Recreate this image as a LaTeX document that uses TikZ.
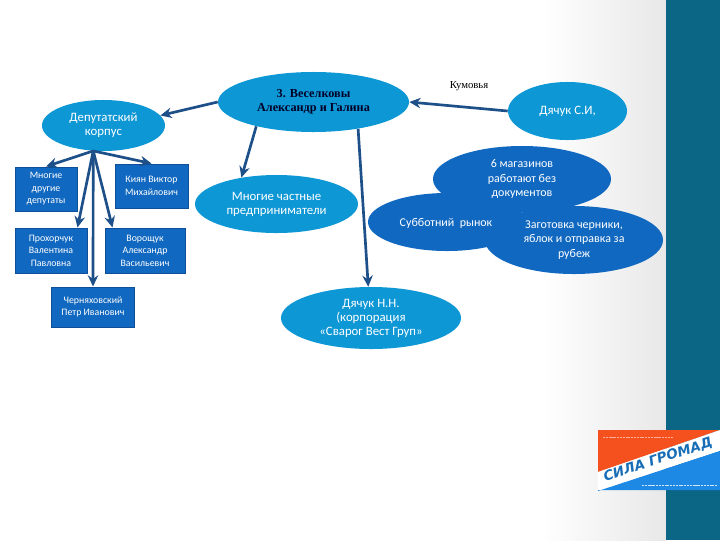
\documentclass[tikz,border=0pt]{standalone}
\usepackage{fontspec}
\setmainfont{Carlito}
\newfontfamily\serifcyr{Liberation Serif}
\newfontfamily\logofont{DejaVu Sans}
\usepackage{xcolor}
\usetikzlibrary{arrows.meta,positioning,shapes.geometric}
\definecolor{hubblue}{HTML}{0E97D5}
\definecolor{deepblue}{HTML}{1168C0}
\definecolor{edgeblue}{HTML}{0F4F9A}
\definecolor{linkblue}{HTML}{1D4F88}
\definecolor{sidebar}{HTML}{0B6585}
\definecolor{logoorange}{HTML}{F4511E}
\definecolor{logoblue}{HTML}{1E88E5}
\tikzset{
  hub/.style={ellipse,fill=hubblue,inner sep=0pt,align=center,text=white,
    font=\fontsize{9.1}{10}\selectfont},
  spot/.style={ellipse,fill=deepblue,inner sep=0pt},
  spotlabel/.style={align=center,text=white,font=\fontsize{8.5}{10.3}\selectfont},
  leaf/.style={draw=edgeblue,line width=0.7pt,fill=deepblue,inner sep=0pt,align=center,
    text=white,font=\fontsize{7}{8.9}\selectfont},
  linkarrow/.style={-{Stealth[length=2.8mm,width=2.6mm]},line width=1.9pt,draw=linkblue}
}
\begin{document}
\begin{tikzpicture}[x=0.025cm,y=-0.025cm]
\useasboundingbox (0,0) rectangle (720,540);
% background and side strip
\fill[white] (0,0) rectangle (720,540);
\shade[left color=white,right color=black!9] (540,0) rectangle (666,540);
\fill[sidebar] (666,0) rectangle (720,540);
% hubs
\node[hub,minimum width=3.075cm,minimum height=1.275cm] (dep) at (103.5,125.5) {Депутатский\\корпус};
\node[hub,minimum width=4.775cm,minimum height=1.5cm,text=black!85!blue,
  font=\serifcyr\bfseries\fontsize{8.7}{10}\selectfont] (ves) at (313.5,102) {3. Веселковы\\Александр и Галина};
\node[hub,minimum width=4.075cm,minimum height=1.45cm] (priv) at (276.5,204) {Многие частные\\предприниматели};
\node[hub,minimum width=4.5cm,minimum height=1.55cm] (nn) at (371,318) {Дячук Н.Н.\\(корпорация\\«Сварог Вест Груп»};
\node[hub,minimum width=2.975cm,minimum height=1.45cm] (si) at (567.5,111) {Дячук С.И,};
\node[font=\serifcyr\fontsize{7.6}{9}\selectfont,text=black] (kum) at (469,86) {Кумовья};
% merged group on the right
\node[spot,minimum width=4.45cm,minimum height=1.65cm] (shops) at (522,179) {};
\node[spot,minimum width=3.95cm,minimum height=1.45cm] (market) at (447,222) {};
\node[spot,minimum width=4.45cm,minimum height=1.7cm] (berry) at (574,240) {};
\node[spotlabel] at (shops) {6 магазинов\\работают без\\документов};
\node[spotlabel] at (446,223) {Субботний\ \ рынок};
\node[spotlabel] at (berry) {Заготовка черники,\\яблок и отправка за\\рубеж};
% deputies
\node[leaf,minimum width=1.55cm,minimum height=1.1cm] (many) at (46,189) {Многие\\другие\\депутаты};
\node[leaf,minimum width=1.825cm,minimum height=1.1cm,right=0.925cm of many,yshift=0.075cm] (kiyan) {Киян Виктор\\Михайлович};
\node[leaf,minimum width=1.8cm,minimum height=1.125cm,below=0.4cm of many.south west,anchor=north west] (prokh) {Прохорчук\\Валентина\\Павловна};
\node[leaf,minimum width=2cm,minimum height=1.125cm,right=0.425cm of prokh] (vorosh) {Ворощук\\Александр\\Васильевич};
\node[leaf,minimum width=2.05cm,minimum height=1cm] (chern) at (93,307) {Черняховский\\Петр Иванович};
% links
\draw[linkarrow] (dep.248) -- (many.north);
\draw[linkarrow] (dep.248) -- (kiyan.north);
\draw[linkarrow] (dep.248) -- ([xshift=-0.25cm]prokh.north east);
\draw[linkarrow] (dep.248) -- ([xshift=0.2cm]vorosh.north west);
\draw[linkarrow] (dep.248) -- (chern.north);
\draw[linkarrow] (ves.west) -- (dep.10);
\draw[linkarrow] (ves.203) -- (priv.143);
\draw[linkarrow] (ves.329) -- (nn.95);
\draw[linkarrow] (si.west) -- (ves.east);
% logo
\fill[logoorange] (598,430) -- (720,430) -- (598,472) -- cycle;
\fill[white] (598,472) -- (720,430) -- (720,451) -- (598,491) -- cycle;
\fill[logoblue] (598,491) -- (720,451) -- (720,490) -- (598,490) -- cycle;
\draw[white,opacity=0.55,line width=0.6pt,dash pattern=on 1.5pt off 0.5pt] (603,437) -- (673,437);
\draw[white,opacity=0.8,line width=0.6pt,dash pattern=on 1.5pt off 0.5pt] (642,485) -- (717,485);
\node[rotate=18,text=logoblue!80!black,font=\logofont\bfseries\itshape\fontsize{9.6}{10}\selectfont,inner sep=0pt] (slogan) at (658,460) {СИЛА ГРОМАД};
\end{tikzpicture}
\end{document}
